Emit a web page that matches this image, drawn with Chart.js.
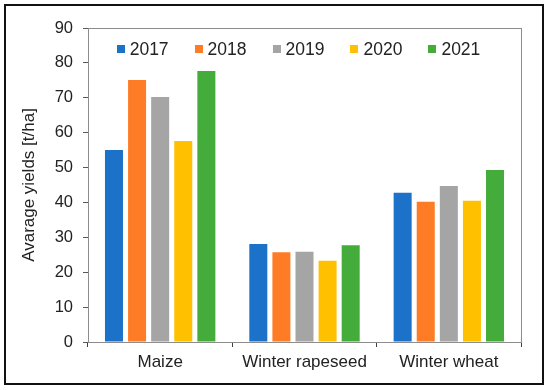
<!DOCTYPE html>
<html>
<head>
<meta charset="utf-8">
<script src="https://cdn.jsdelivr.net/npm/chart.js@4/dist/chart.umd.min.js"></script>
<style>
    html, body { margin: 0; padding: 0; background: #fff; }
    #wrap { position: relative; width: 550px; height: 390px; }
    #frame {
        position: absolute; left: 4px; top: 4px; width: 536px; height: 377px;
        border: 2px solid #111; pointer-events: none;
    }
</style>
</head>
<body>
<div id="wrap">
    <canvas id="yield-chart" width="550" height="390"></canvas>
    <div id="frame"></div>
</div>
<script>
// Данные графика
const crops = ['Maize', 'Winter rapeseed', 'Winter wheat'];
const years = ['2017', '2018', '2019', '2020', '2021'];
const yields2017 = [55.0, 28.1, 42.8];
const yields2018 = [75.1, 25.7, 40.2];
const yields2019 = [70.2, 25.9, 44.7];
const yields2020 = [57.6, 23.3, 40.5];
const yields2021 = [77.7, 27.7, 49.3];
const yearColors = ['#1C72C8', '#FF7C26', '#A5A5A5', '#FFC000', '#43AC3B'];
const yTicks = [0, 10, 20, 30, 40, 50, 60, 70, 80, 90];

const seriesValues = [yields2017, yields2018, yields2019, yields2020, yields2021];
const FONT = 'Liberation Sans, Arial, sans-serif';

// Рамка области построения
const plotBorder = {
    id: 'plotBorder',
    beforeDatasetsDraw(chart) {
        const { ctx, chartArea: a } = chart;
        ctx.save();
        ctx.strokeStyle = '#8c8c8c';
        ctx.lineWidth = 1;
        ctx.strokeRect(Math.round(a.left) + 0.5, Math.round(a.top) + 0.5,
            Math.round(a.right - a.left), Math.round(a.bottom - a.top));
        ctx.restore();
    }
};

// Легенда в одну строку внутри области построения
const innerLegend = {
    id: 'innerLegend',
    afterDraw(chart) {
        const { ctx, chartArea: a } = chart;
        const box = 8, gap = 5, spacing = 26;
        ctx.save();
        ctx.font = '17.5px ' + FONT;
        ctx.textBaseline = 'middle';
        const items = chart.data.datasets.map(ds => ({
            text: ds.label, color: ds.backgroundColor,
            w: box + gap + ctx.measureText(ds.label).width
        }));
        const total = items.reduce((s, it) => s + it.w, 0) + spacing * (items.length - 1);
        let x = (a.left + a.right) / 2 - total / 2 - 6;
        const y = a.top + 21;
        items.forEach(it => {
            ctx.fillStyle = it.color;
            ctx.fillRect(Math.round(x), Math.round(y - box / 2), box, box);
            ctx.fillStyle = '#222';
            ctx.fillText(it.text, x + box + gap, y + 1);
            x += it.w + spacing;
        });
        ctx.restore();
    }
};

const ctx = document.getElementById('yield-chart').getContext('2d');
new Chart(ctx, {
    type: 'bar',
    data: {
        labels: crops,
        datasets: years.map((year, i) => ({
            label: year,
            data: seriesValues[i],
            backgroundColor: yearColors[i],
            categoryPercentage: 0.8,
            barPercentage: 0.78
        }))
    },
    options: {
        responsive: false,
        animation: false,
        layout: { padding: { left: 0, top: 28, right: 29, bottom: 0 } },
        plugins: {
            tooltip: { enabled: false },
            legend: { display: false }
        },
        scales: {
            x: {
                afterFit(scale) { scale.height = 48; },
                grid: {
                    offset: true,
                    drawOnChartArea: false,
                    drawTicks: true,
                    tickLength: 5,
                    color: '#404040'
                },
                border: { color: '#404040', width: 1 },
                ticks: {
                    padding: 5,
                    color: '#222',
                    font: { family: FONT, size: 17 }
                }
            },
            y: {
                min: 0,
                max: 90,
                afterFit(scale) { scale.width = 88; },
                afterBuildTicks(scale) { scale.ticks = yTicks.map(v => ({ value: v })); },
                grid: {
                    drawOnChartArea: false,
                    drawTicks: true,
                    tickLength: 5,
                    color: '#595959'
                },
                border: { color: '#595959', width: 1 },
                ticks: {
                    padding: 10,
                    color: '#222',
                    font: { family: FONT, size: 16.5 }
                },
                title: {
                    display: true,
                    text: 'Avarage yields [t/ha]',
                    color: '#222',
                    padding: { top: 19, bottom: 0 },
                    font: { family: FONT, size: 17 }
                }
            }
        }
    },
    plugins: [plotBorder, innerLegend]
});
</script>
</body>
</html>
